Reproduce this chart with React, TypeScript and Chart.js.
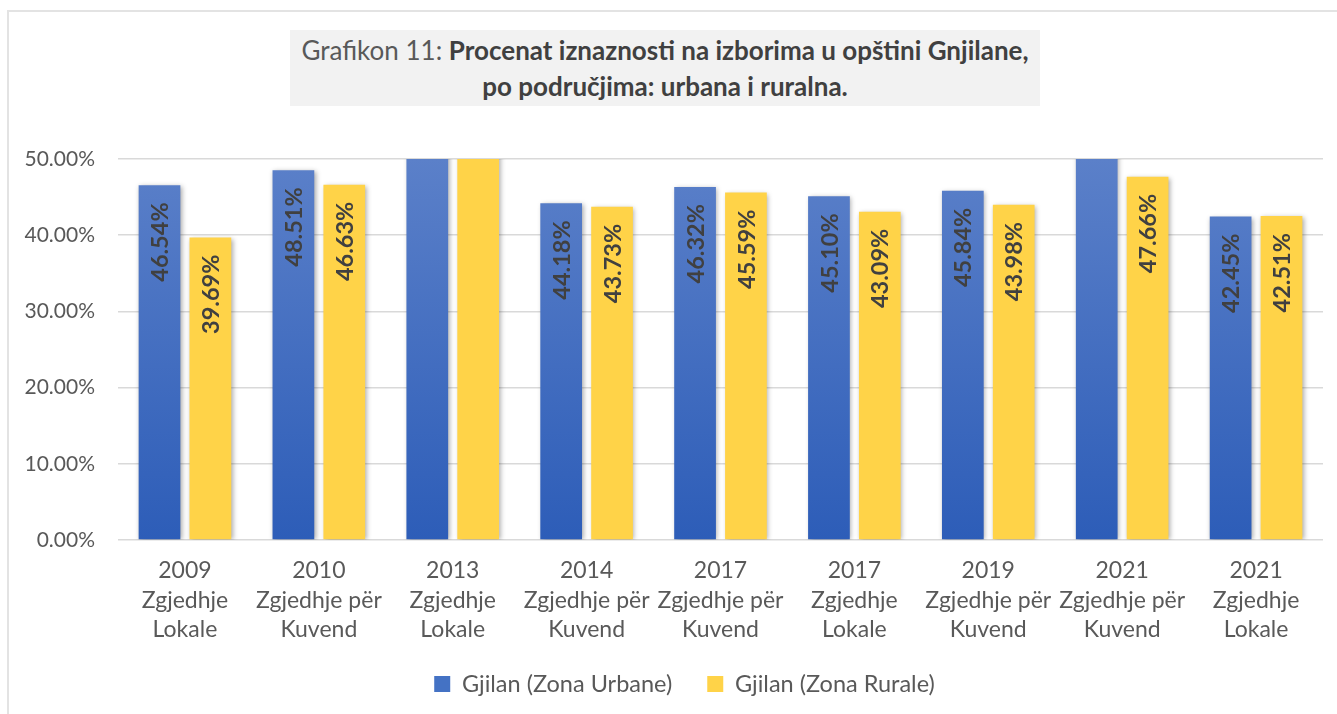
import React, { useEffect, useRef } from "react";
import { Chart, registerables } from "chart.js";

Chart.register(...registerables);

// Categories (multi-line labels)
const categories: string[][] = [
  ["2009", "Zgjedhje", "Lokale"],
  ["2010", "Zgjedhje për", "Kuvend"],
  ["2013", "Zgjedhje", "Lokale"],
  ["2014", "Zgjedhje për", "Kuvend"],
  ["2017", "Zgjedhje për", "Kuvend"],
  ["2017", "Zgjedhje", "Lokale"],
  ["2019", "Zgjedhje për", "Kuvend"],
  ["2021", "Zgjedhje për", "Kuvend"],
  ["2021", "Zgjedhje", "Lokale"],
];

// Values in percent. Bars that run off the top of the axis (2013 both, 2021 Kuvend urban)
// have no readable label; their values are estimates above the 50% axis maximum.
const urbanValues: number[] = [46.54, 48.51, 56.0, 44.18, 46.32, 45.1, 45.84, 51.5, 42.45];
const ruralValues: number[] = [39.69, 46.63, 54.0, 43.73, 45.59, 43.09, 43.98, 47.66, 42.51];

const seriesNames: string[] = ["Gjilan (Zona Urbane)", "Gjilan (Zona Rurale)"];

const yMin = 0;
const yMax = 50;
const yStep = 10;

const FONT = "Lato, 'Noto Sans', sans-serif";

const barShadowPlugin = {
  id: "barShadow",
  beforeDatasetsDraw(chart: any) {
    const ctx = chart.ctx;
    ctx.save();
    ctx.shadowColor = "rgba(0,0,0,0.35)";
    ctx.shadowBlur = 5;
    ctx.shadowOffsetX = 1.5;
    ctx.shadowOffsetY = 1;
  },
  afterDatasetsDraw(chart: any) {
    chart.ctx.restore();
  },
};

// keep the legend block at a fixed height and nudge it right to match the reference
const legendAdjustPlugin = {
  id: "legendAdjust",
  beforeLayout(chart: any) {
    const l = chart.legend;
    if (l && !l.__patched) {
      const orig = l.fit;
      l.fit = function (this: any) {
        orig.call(this);
        this.height = 70;
      };
      l.__patched = true;
    }
  },
  afterLayout(chart: any) {
    const l = chart.legend;
    if (l) {
      l.left += 23;
      l.right += 23;
    }
  },
};

const barLabelPlugin = {
  id: "barLabels",
  afterDraw(chart: any) {
    const ctx = chart.ctx;
    const yScale = chart.scales.y;
    chart.data.datasets.forEach((ds: any, di: number) => {
      const meta = chart.getDatasetMeta(di);
      meta.data.forEach((bar: any, i: number) => {
        const v = ds.data[i] as number;
        if (v > yScale.max) return;
        ctx.save();
        ctx.translate(bar.x, bar.y + 17);
        ctx.rotate(-Math.PI / 2);
        ctx.font = `bold 23.5px ${FONT}`;
        ctx.fillStyle = "#404040";
        ctx.textAlign = "right";
        ctx.textBaseline = "middle";
        ctx.fillText(v.toFixed(2) + "%", 0, 1);
        ctx.restore();
      });
    });
  },
};

export default function App() {
  const canvasRef = useRef<HTMLCanvasElement | null>(null);

  useEffect(() => {
    if (!canvasRef.current) return;
    const blueGradient = (c: any) => {
      const chart = c.chart;
      const area = chart.chartArea;
      if (!area) return "#4472c4";
      const g = chart.ctx.createLinearGradient(0, area.top, 0, area.bottom);
      g.addColorStop(0, "#5b80c9");
      g.addColorStop(1, "#2d5db8");
      return g;
    };
    const chart = new Chart(canvasRef.current, {
      type: "bar",
      data: {
        labels: categories,
        datasets: [
          {
            label: seriesNames[0],
            data: urbanValues,
            backgroundColor: blueGradient,
            borderWidth: 0,
            categoryPercentage: 0.76,
            barPercentage: 0.82,
          },
          {
            label: seriesNames[1],
            data: ruralValues,
            backgroundColor: "#ffd348",
            borderWidth: 0,
            categoryPercentage: 0.76,
            barPercentage: 0.82,
          },
        ],
      },
      options: {
        responsive: false,
        animation: false,
        layout: { padding: { top: 159, right: 14, left: 0, bottom: 6.75 } },
        plugins: {
          title: { display: false },
          tooltip: { enabled: false },
          legend: {
            position: "bottom",
            labels: {
              color: "#595959",
              font: { family: FONT, size: 23.5 },
              boxWidth: 16,
              boxHeight: 16,
              padding: 35,
              generateLabels: (ch: any) =>
                ch.data.datasets.map((d: any, i: number) => ({
                  text: d.label,
                  fillStyle: i === 0 ? "#4472c4" : "#ffd348",
                  strokeStyle: "transparent",
                  lineWidth: 0,
                  datasetIndex: i,
                  hidden: false,
                  fontColor: "#595959",
                })),
            },
          },
        },
        scales: {
          x: {
            grid: { display: false },
            border: { display: false },
            ticks: {
              color: "#595959",
              font: { family: FONT, size: 23, lineHeight: 1.28 },
              padding: 8,
              maxRotation: 0,
              autoSkip: false,
            },
            afterFit: (s: any) => {
              s.height = 97.25;
            },
          },
          y: {
            min: yMin,
            max: yMax,
            grid: { color: "#d9d9d9", lineWidth: 1.6, drawTicks: false },
            border: { display: false },
            ticks: {
              stepSize: yStep,
              color: "#595959",
              font: { family: FONT, size: 21 },
              padding: 23,
              callback: (v: any) => Number(v).toFixed(2) + "%",
            },
            afterFit: (s: any) => {
              s.width = 118;
            },
          },
        },
      },
      plugins: [barShadowPlugin, legendAdjustPlugin, barLabelPlugin],
    });
    return () => chart.destroy();
  }, []);

  return (
    <div
      style={{
        position: "fixed",
        left: 0,
        top: 0,
        width: 1337,
        height: 714,
        background: "#ffffff",
        overflow: "hidden",
      }}
    >
      <div
        style={{
          position: "absolute",
          left: 7,
          top: 10,
          width: 1340,
          height: 720,
          border: "2px solid #e3e3e3",
          boxSizing: "border-box",
        }}
      />
      <canvas ref={canvasRef} width={1337} height={714} style={{ position: "absolute", left: 0, top: 0 }} />
      <div
        style={{
          position: "absolute",
          left: 290,
          top: 30,
          width: 750,
          height: 76,
          background: "#f2f2f2",
          color: "#595959",
          fontFamily: FONT,
          fontSize: 26,
          lineHeight: "36px",
          textAlign: "center",
          paddingTop: 2,
          boxSizing: "border-box",
        }}
      >
        Grafikon 11: <b style={{ color: "#404040" }}>Procenat iznaznosti na izborima u opštini Gnjilane,</b>
        <br />
        <b style={{ color: "#404040" }}>po područjima: urbana i ruralna.</b>
      </div>
    </div>
  );
}
